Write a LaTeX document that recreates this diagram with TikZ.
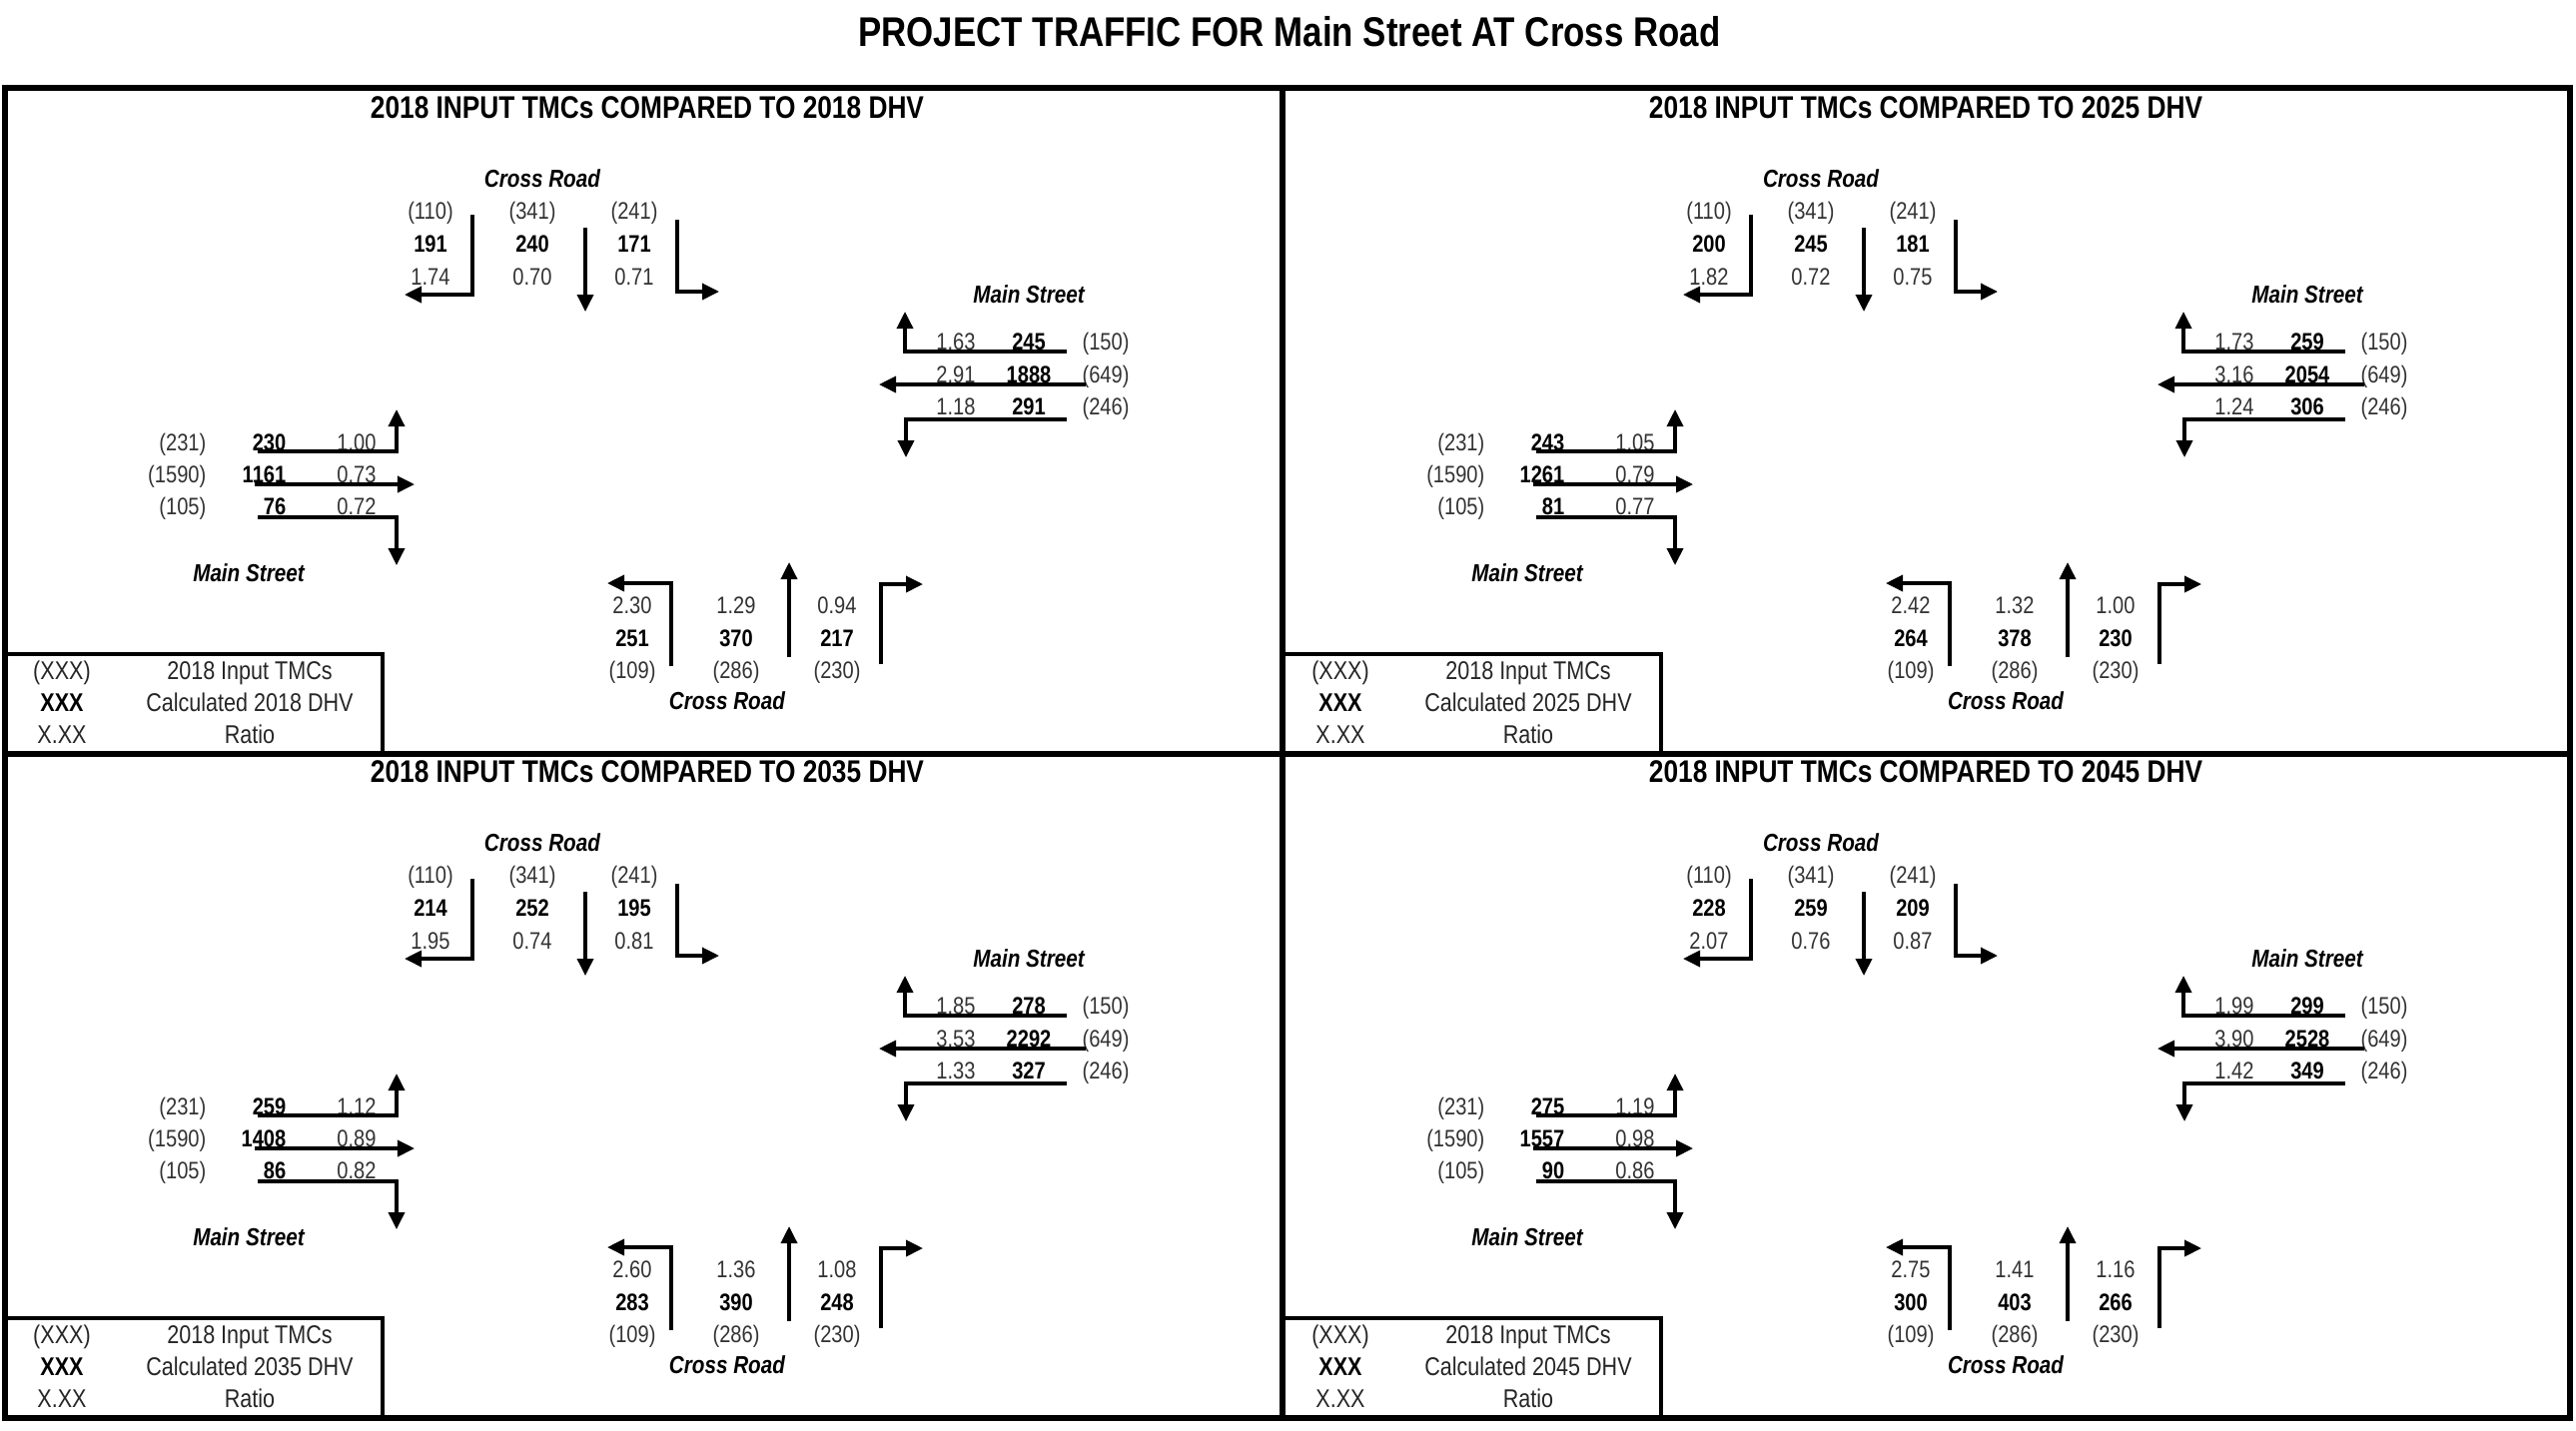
\documentclass[tikz,border=0pt]{standalone}
\usepackage{fontspec}
\setmainfont[FakeStretch=0.84]{Liberation Sans}
\usetikzlibrary{arrows.meta}
\tikzset{
 txt/.style={inner sep=0pt, anchor=base, font=\fontsize{6.8}{8}\selectfont, text=black!80},
 bnum/.style={inner sep=0pt, anchor=base, font=\fontsize{6.8}{8}\selectfont\bfseries, text=black},
 rtxt/.style={txt, anchor=base east},
 rbnum/.style={bnum, anchor=base east},
 street/.style={inner sep=0pt, anchor=base, font=\fontsize{7}{8}\selectfont\bfseries\itshape},
 qtitle/.style={inner sep=0pt, anchor=base, font=\fontsize{8.9}{10}\selectfont\bfseries},
 mtitle/.style={inner sep=0pt, anchor=base, font=\fontsize{11.8}{13}\selectfont\bfseries},
 legtxt/.style={inner sep=0pt, anchor=base, font=\fontsize{7.3}{9}\selectfont, text=black!85},
 legbold/.style={legtxt, font=\fontsize{7.3}{9}\selectfont\bfseries, text=black},
 mv/.style={line width=1pt, -{Triangle[length=0.17cm,width=0.16cm]}},
 frameline/.style={line width=1.8pt},
 legbox/.style={line width=1.2pt},
}
\newcommand\setN[6]{\def\Na{#1}\def\Nb{#2}\def\Nc{#3}\def\Nra{#4}\def\Nrb{#5}\def\Nrc{#6}}
\newcommand\setE[6]{\def\Ea{#1}\def\Eb{#2}\def\Ec{#3}\def\Era{#4}\def\Erb{#5}\def\Erc{#6}}
\newcommand\setW[6]{\def\Wa{#1}\def\Wb{#2}\def\Wc{#3}\def\Wra{#4}\def\Wrb{#5}\def\Wrc{#6}}
\newcommand\setS[6]{\def\Sra{#1}\def\Srb{#2}\def\Src{#3}\def\Sa{#4}\def\Sb{#5}\def\Sc{#6}}
\newcommand\drawquad[2]{%
 \node[qtitle] (#1title) at (648,118) {2018 INPUT TMCs COMPARED TO #2 DHV};
 % north approach
 \node[street] (#1ncr) at (543,187) {Cross Road};
 \node[txt] (#1np1) at (431,219) {(110)};
 \node[txt] (#1np2) at (533,219) {(341)};
 \node[txt] (#1np3) at (635,219) {(241)};
 \node[bnum] (#1nb1) at (431,252.5) {\Na};
 \node[bnum] (#1nb2) at (533,252.5) {\Nb};
 \node[bnum] (#1nb3) at (635,252.5) {\Nc};
 \node[txt] (#1nr1) at (431,285.5) {\Nra};
 \node[txt] (#1nr2) at (533,285.5) {\Nrb};
 \node[txt] (#1nr3) at (635,285.5) {\Nrc};
 \draw[mv] (473,215) -- (473,295) -- (405,295);
 \draw[mv] (586,228) -- (586,312);
 \draw[mv] (678,220) -- (678,292) -- (720,292);
 % east approach
 \node[street] (#1ems) at (1030,303) {Main Street};
 \node[txt] (#1er1) at (957,350) {\Era};
 \node[bnum] (#1eb1) at (1030,350) {\Ea};
 \node[txt] (#1ep1) at (1107,350) {(150)};
 \node[txt] (#1er2) at (957,383) {\Erb};
 \node[bnum] (#1eb2) at (1030,383) {\Eb};
 \node[txt] (#1ep2) at (1107,383) {(649)};
 \node[txt] (#1er3) at (957,415) {\Erc};
 \node[bnum] (#1eb3) at (1030,415) {\Ec};
 \node[txt] (#1ep3) at (1107,415) {(246)};
 \draw[mv] (1068,352) -- (906,352) -- (906,312);
 \draw[mv] (1087,385) -- (880,385);
 \draw[mv] (1068,420) -- (907,420) -- (907,458);
 % west approach
 \node[rtxt] (#1wp1) at (207,451.5) {(231)};
 \node[rbnum] (#1wb1) at (287,451.5) {\Wa};
 \node[txt] (#1wr1) at (357,451.5) {\Wra};
 \node[rtxt] (#1wp2) at (207,483.5) {(1590)};
 \node[rbnum] (#1wb2) at (287,483.5) {\Wb};
 \node[txt] (#1wr2) at (357,483.5) {\Wrb};
 \node[rtxt] (#1wp3) at (207,515.5) {(105)};
 \node[rbnum] (#1wb3) at (287,515.5) {\Wc};
 \node[txt] (#1wr3) at (357,515.5) {\Wrc};
 \draw[mv] (258,452) -- (397,452) -- (397,410);
 \draw[mv] (255,485) -- (415,485);
 \draw[mv] (258,518) -- (397,518) -- (397,566);
 \node[street] (#1wms) at (249,582) {Main Street};
 % south approach
 \node[txt] (#1sr1) at (633,614.5) {\Sra};
 \node[txt] (#1sr2) at (737,614.5) {\Srb};
 \node[txt] (#1sr3) at (838,614.5) {\Src};
 \node[bnum] (#1sb1) at (633,647.5) {\Sa};
 \node[bnum] (#1sb2) at (737,647.5) {\Sb};
 \node[bnum] (#1sb3) at (838,647.5) {\Sc};
 \node[txt] (#1sp1) at (633,679.5) {(109)};
 \node[txt] (#1sp2) at (737,679.5) {(286)};
 \node[txt] (#1sp3) at (838,679.5) {(230)};
 \node[street] (#1scr) at (728,710) {Cross Road};
 \draw[mv] (672,667) -- (672,584) -- (608,584);
 \draw[mv] (790,658) -- (790,563);
 \draw[mv] (882,665) -- (882,585) -- (924,585);
 % legend
 \draw[legbox] (5,655) -- (383,655) -- (383,755);
 \node[legtxt] (#1lk1) at (62,680.5) {(XXX)};
 \node[legbold] (#1lk2) at (62,712.5) {XXX};
 \node[legtxt] (#1lk3) at (62,744.5) {X.XX};
 \node[legtxt] (#1lt1) at (250,680.5) {2018 Input TMCs};
 \node[legtxt] (#1lt2) at (250,712.5) {Calculated #2 DHV};
 \node[legtxt] (#1lt3) at (250,744.5) {Ratio};
}
\begin{document}
\begin{tikzpicture}[x=0.01cm,y=-0.01cm]
\fill[white] (0,0) rectangle (2579,1432);
\node[mtitle] (maintitle) at (1291,46) {PROJECT TRAFFIC FOR Main Street AT Cross Road};
% quadrant 1
\setN{191}{240}{171}{1.74}{0.70}{0.71}
\setE{245}{1888}{291}{1.63}{2.91}{1.18}
\setW{230}{1161}{76}{1.00}{0.73}{0.72}
\setS{2.30}{1.29}{0.94}{251}{370}{217}
\begin{scope}
\drawquad{qa}{2018}
\end{scope}
% quadrant 2
\setN{200}{245}{181}{1.82}{0.72}{0.75}
\setE{259}{2054}{306}{1.73}{3.16}{1.24}
\setW{243}{1261}{81}{1.05}{0.79}{0.77}
\setS{2.42}{1.32}{1.00}{264}{378}{230}
\begin{scope}[shift={(1280,0)}]
\drawquad{qb}{2025}
\end{scope}
% quadrant 3
\setN{214}{252}{195}{1.95}{0.74}{0.81}
\setE{278}{2292}{327}{1.85}{3.53}{1.33}
\setW{259}{1408}{86}{1.12}{0.89}{0.82}
\setS{2.60}{1.36}{1.08}{283}{390}{248}
\begin{scope}[shift={(0,665)}]
\drawquad{qc}{2035}
\end{scope}
% quadrant 4
\setN{228}{259}{209}{2.07}{0.76}{0.87}
\setE{299}{2528}{349}{1.99}{3.90}{1.42}
\setW{275}{1557}{90}{1.19}{0.98}{0.86}
\setS{2.75}{1.41}{1.16}{300}{403}{266}
\begin{scope}[shift={(1280,665)}]
\drawquad{qd}{2045}
\end{scope}
% frame
\draw[frameline] (5,88) rectangle (2573,1420);
\draw[frameline] (1284,88) -- (1284,1420);
\draw[frameline] (5,755) -- (2573,755);
\end{tikzpicture}
\end{document}
